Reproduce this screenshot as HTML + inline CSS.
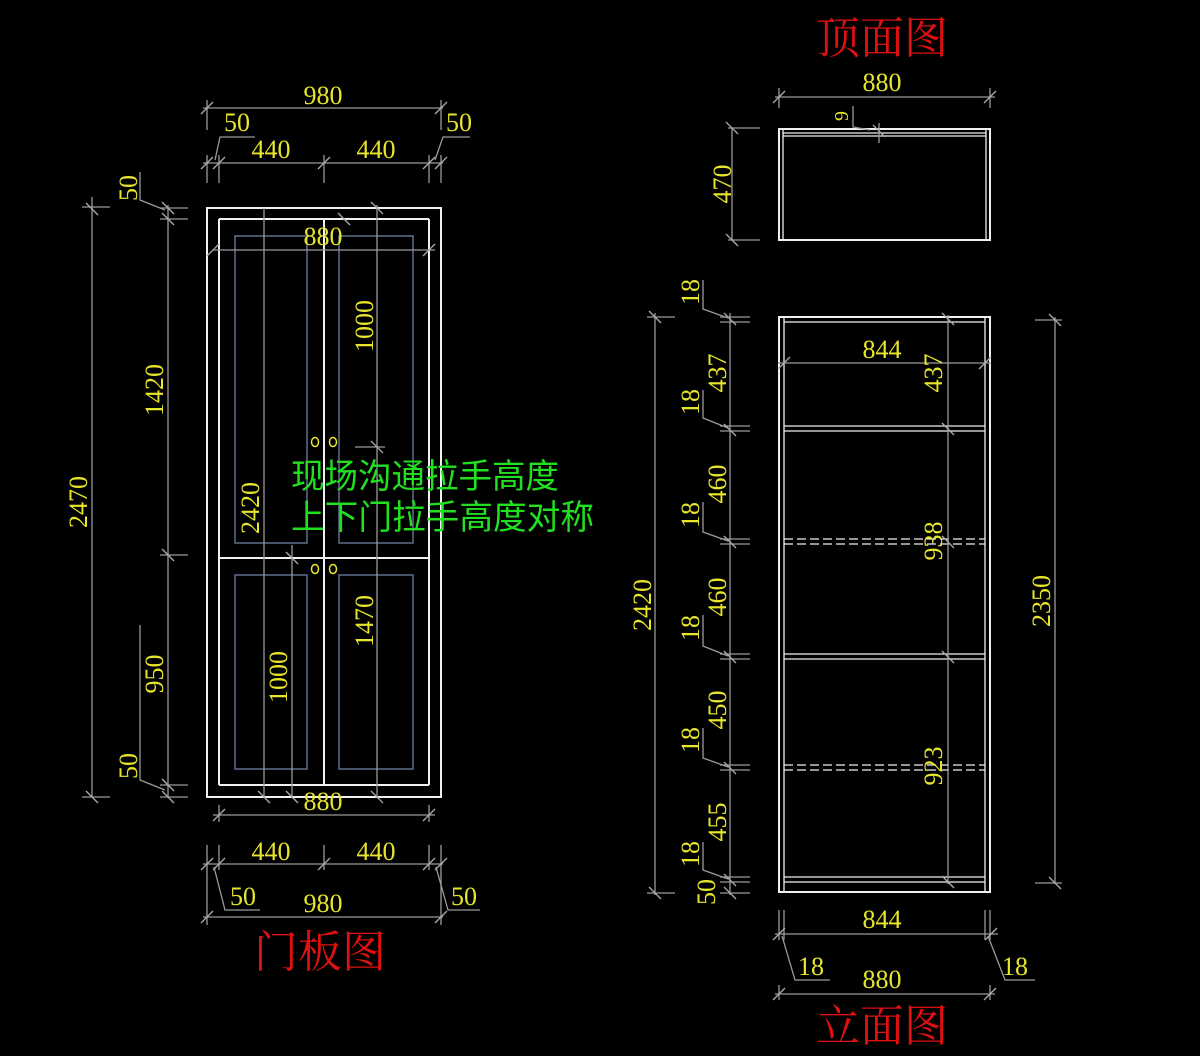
<!DOCTYPE html>
<html><head><meta charset="utf-8"><style>
html,body{margin:0;padding:0;background:#000;}
svg{display:block}
.w{stroke:#f0f0f0;stroke-width:2;fill:none}
.b{stroke:#5d6f8c;stroke-width:1.5;fill:none}
.d{stroke:#9a9a9a;stroke-width:1.3;fill:none}
.t{fill:#e8e62a;font-family:"Liberation Serif",serif;font-size:26px}
.r{fill:#e01010;font-family:"Liberation Sans","Noto Serif CJK SC",serif;font-size:44px}
.g{fill:#20e020;font-family:"Liberation Sans","Noto Sans CJK SC",sans-serif;font-size:34px}
</style></head><body>
<svg width="1200" height="1056" viewBox="0 0 1200 1056" xmlns="http://www.w3.org/2000/svg">
<rect width="1200" height="1056" fill="#000"/>
<!-- DOOR VIEW -->
<rect class="w" x="207" y="208" width="234" height="589"/>
<line class="w" x1="219" y1="219" x2="429" y2="219"/>
<line class="w" x1="219" y1="785" x2="429" y2="785"/>
<line class="w" x1="219" y1="219" x2="219" y2="785"/>
<line class="w" x1="429" y1="219" x2="429" y2="785"/>
<line class="w" x1="324" y1="219" x2="324" y2="785"/>
<line class="w" x1="219" y1="558" x2="429" y2="558"/>
<rect class="b" x="235" y="236" width="72" height="307"/>
<rect class="b" x="339" y="236" width="74" height="307"/>
<rect class="b" x="235" y="575" width="72" height="194"/>
<rect class="b" x="339" y="575" width="74" height="194"/>
<g stroke="#e8e62a" stroke-width="1.5" fill="none">
<ellipse cx="315" cy="442" rx="3.5" ry="4.5"/><ellipse cx="333" cy="442" rx="3.5" ry="4.5"/>
<ellipse cx="315" cy="569" rx="3.5" ry="4.5"/><ellipse cx="333" cy="569" rx="3.5" ry="4.5"/>
</g>
<g class="d">
<line x1="203" y1="108" x2="443" y2="108"/>
<line x1="207" y1="100" x2="207" y2="130"/><line x1="441" y1="100" x2="441" y2="130"/>
<line x1="203" y1="163" x2="443" y2="163"/>
<line x1="207" y1="155" x2="207" y2="183"/><line x1="219" y1="155" x2="219" y2="183"/>
<line x1="324" y1="155" x2="324" y2="183"/><line x1="429" y1="155" x2="429" y2="183"/><line x1="441" y1="155" x2="441" y2="183"/>
<polyline points="215,160 220,137 255,137"/><polyline points="435,160 443,137 470,137"/>
<line x1="213" y1="250" x2="435" y2="250"/>
<line x1="264" y1="208" x2="264" y2="797"/>
<line x1="292" y1="545" x2="292" y2="797"/>
<line x1="377" y1="205" x2="377" y2="797"/>
<line x1="355" y1="447" x2="385" y2="447"/>
<line x1="92" y1="197" x2="92" y2="797"/>
<line x1="82" y1="207" x2="110" y2="207"/><line x1="82" y1="797" x2="110" y2="797"/>
<line x1="168" y1="205" x2="168" y2="797"/>
<line x1="160" y1="208" x2="188" y2="208"/><line x1="160" y1="219" x2="188" y2="219"/>
<line x1="160" y1="555" x2="188" y2="555"/>
<line x1="160" y1="785" x2="188" y2="785"/><line x1="160" y1="797" x2="188" y2="797"/>
<polyline points="140,172 140,200 165,210"/><polyline points="140,625 140,780 165,790"/>
<line x1="213" y1="815" x2="435" y2="815"/>
<line x1="219" y1="805" x2="219" y2="822"/><line x1="429" y1="805" x2="429" y2="822"/>
<line x1="203" y1="864" x2="443" y2="864"/>
<line x1="207" y1="845" x2="207" y2="925"/><line x1="219" y1="845" x2="219" y2="870"/>
<line x1="324" y1="845" x2="324" y2="870"/><line x1="429" y1="845" x2="429" y2="870"/><line x1="441" y1="845" x2="441" y2="925"/>
<line x1="203" y1="917" x2="443" y2="917"/>
<polyline points="214,867 225,910 260,910"/><polyline points="436,867 448,910 480,910"/>
</g>
<g stroke="#aaa" stroke-width="1.3">
<line x1="201" y1="114" x2="213" y2="102"/><line x1="435" y1="114" x2="447" y2="102"/>
<line x1="201" y1="169" x2="213" y2="157"/><line x1="213" y1="169" x2="225" y2="157"/><line x1="318" y1="169" x2="330" y2="157"/><line x1="423" y1="169" x2="435" y2="157"/><line x1="435" y1="169" x2="447" y2="157"/>
<line x1="207" y1="256" x2="219" y2="244"/><line x1="423" y1="256" x2="435" y2="244"/>
<line x1="86" y1="203" x2="98" y2="215"/><line x1="86" y1="791" x2="98" y2="803"/>
<line x1="162" y1="202" x2="174" y2="214"/><line x1="162" y1="213" x2="174" y2="225"/><line x1="162" y1="549" x2="174" y2="561"/><line x1="162" y1="779" x2="174" y2="791"/><line x1="162" y1="791" x2="174" y2="803"/>
<line x1="213" y1="821" x2="225" y2="809"/><line x1="423" y1="821" x2="435" y2="809"/>
<line x1="201" y1="870" x2="213" y2="858"/><line x1="213" y1="870" x2="225" y2="858"/><line x1="318" y1="870" x2="330" y2="858"/><line x1="423" y1="870" x2="435" y2="858"/><line x1="435" y1="870" x2="447" y2="858"/>
<line x1="201" y1="923" x2="213" y2="911"/><line x1="435" y1="923" x2="447" y2="911"/>
<line x1="258" y1="791" x2="270" y2="803"/><line x1="286" y1="791" x2="298" y2="803"/><line x1="371" y1="791" x2="383" y2="803"/>
<line x1="286" y1="552" x2="298" y2="564"/><line x1="371" y1="441" x2="383" y2="453"/><line x1="371" y1="202" x2="383" y2="214"/><line x1="338" y1="213" x2="350" y2="225"/>
</g>
<text class="t" x="323" y="104" text-anchor="middle">980</text>
<text class="t" x="237" y="131" text-anchor="middle">50</text>
<text class="t" x="459" y="131" text-anchor="middle">50</text>
<text class="t" x="271" y="158" text-anchor="middle">440</text>
<text class="t" x="376" y="158" text-anchor="middle">440</text>
<text class="t" x="323" y="245" text-anchor="middle">880</text>
<text class="t" x="323" y="810" text-anchor="middle">880</text>
<text class="t" x="271" y="860" text-anchor="middle">440</text>
<text class="t" x="376" y="860" text-anchor="middle">440</text>
<text class="t" x="243" y="905" text-anchor="middle">50</text>
<text class="t" x="464" y="905" text-anchor="middle">50</text>
<text class="t" x="323" y="912" text-anchor="middle">980</text>
<text class="t" transform="translate(87,502) rotate(-90)" text-anchor="middle">2470</text>
<text class="t" transform="translate(163,390) rotate(-90)" text-anchor="middle">1420</text>
<text class="t" transform="translate(163,674) rotate(-90)" text-anchor="middle">950</text>
<text class="t" transform="translate(137,188) rotate(-90)" text-anchor="middle">50</text>
<text class="t" transform="translate(137,766) rotate(-90)" text-anchor="middle">50</text>
<text class="t" transform="translate(259,508) rotate(-90)" text-anchor="middle">2420</text>
<text class="t" transform="translate(287,677) rotate(-90)" text-anchor="middle">1000</text>
<text class="t" transform="translate(373,326) rotate(-90)" text-anchor="middle">1000</text>
<text class="t" transform="translate(373,621) rotate(-90)" text-anchor="middle">1470</text>
<text class="g" x="291" y="488" textLength="268" lengthAdjust="spacingAndGlyphs">现场沟通拉手高度</text>
<text class="g" x="291" y="529" textLength="303" lengthAdjust="spacingAndGlyphs">上下门拉手高度对称</text>
<text class="r" x="320" y="967" text-anchor="middle">门板图</text>
<!-- TOP VIEW -->
<text class="r" x="882" y="53" text-anchor="middle">顶面图</text>
<rect class="w" x="779" y="129" width="211" height="111"/>
<g stroke="#f0f0f0" stroke-width="1.3">
<line x1="783" y1="129" x2="783" y2="240"/><line x1="986" y1="129" x2="986" y2="240"/>
<line x1="783" y1="133" x2="986" y2="133"/><line x1="783" y1="136" x2="986" y2="136"/>
</g>
<g class="d">
<line x1="775" y1="97" x2="995" y2="97"/>
<line x1="779" y1="88" x2="779" y2="108"/><line x1="990" y1="88" x2="990" y2="108"/>
<line x1="732" y1="128" x2="732" y2="240"/>
<line x1="728" y1="128" x2="760" y2="128"/><line x1="728" y1="240" x2="760" y2="240"/>
<polyline points="853,106 853,127 870,130"/><line x1="879" y1="123" x2="879" y2="143"/>
</g>
<g stroke="#aaa" stroke-width="1.3">
<line x1="773" y1="103" x2="785" y2="91"/><line x1="984" y1="103" x2="996" y2="91"/>
<line x1="726" y1="122" x2="738" y2="134"/><line x1="726" y1="234" x2="738" y2="246"/>
<line x1="873" y1="125" x2="885" y2="137"/>
</g>
<text class="t" x="882" y="91" text-anchor="middle">880</text>
<text class="t" transform="translate(731,184) rotate(-90)" text-anchor="middle">470</text>
<text class="t" transform="translate(848,116) rotate(-90)" text-anchor="middle" style="font-size:20px">9</text>
<!-- ELEVATION -->
<rect class="w" x="779" y="317" width="211" height="575"/>
<g stroke="#f0f0f0" stroke-width="1.3" fill="none">
<line x1="784" y1="317" x2="784" y2="892"/><line x1="985" y1="317" x2="985" y2="892"/>
<line x1="784" y1="322" x2="985" y2="322"/>
<line x1="784" y1="426" x2="985" y2="426"/><line x1="784" y1="431" x2="985" y2="431"/>
<line x1="784" y1="654" x2="985" y2="654"/><line x1="784" y1="659" x2="985" y2="659"/>
<line x1="784" y1="877" x2="985" y2="877"/><line x1="784" y1="882" x2="985" y2="882"/>
<g stroke-dasharray="9,4">
<line x1="784" y1="539" x2="985" y2="539"/><line x1="784" y1="544" x2="985" y2="544"/>
<line x1="784" y1="765" x2="985" y2="765"/><line x1="784" y1="770" x2="985" y2="770"/>
</g>
</g>
<g class="d">
<line x1="655" y1="313" x2="655" y2="895"/>
<line x1="647" y1="317" x2="675" y2="317"/><line x1="647" y1="893" x2="675" y2="893"/>
<line x1="730" y1="313" x2="730" y2="895"/>
<line x1="720" y1="317" x2="750" y2="317"/><line x1="720" y1="322" x2="750" y2="322"/>
<line x1="720" y1="426" x2="750" y2="426"/><line x1="720" y1="431" x2="750" y2="431"/>
<line x1="720" y1="539" x2="750" y2="539"/><line x1="720" y1="544" x2="750" y2="544"/>
<line x1="720" y1="654" x2="750" y2="654"/><line x1="720" y1="659" x2="750" y2="659"/>
<line x1="720" y1="765" x2="750" y2="765"/><line x1="720" y1="770" x2="750" y2="770"/>
<line x1="720" y1="877" x2="750" y2="877"/><line x1="720" y1="882" x2="750" y2="882"/><line x1="720" y1="893" x2="750" y2="893"/>
<polyline points="703,280 703,309 728,318"/>
<polyline points="703,390 703,418 728,428"/>
<polyline points="703,502 703,532 728,541"/>
<polyline points="703,615 703,646 728,656"/>
<polyline points="703,728 703,758 728,767"/>
<polyline points="703,842 703,870 728,879"/>
<line x1="948" y1="315" x2="948" y2="884"/>
<line x1="1055" y1="317" x2="1055" y2="884"/>
<line x1="1035" y1="320" x2="1062" y2="320"/><line x1="1035" y1="883" x2="1062" y2="883"/>
<line x1="778" y1="363" x2="991" y2="363"/>
<line x1="779" y1="910" x2="779" y2="940"/><line x1="784" y1="910" x2="784" y2="940"/>
<line x1="985" y1="910" x2="985" y2="940"/><line x1="990" y1="910" x2="990" y2="940"/>
<line x1="775" y1="934" x2="998" y2="934"/>
<line x1="775" y1="994" x2="995" y2="994"/>
<line x1="779" y1="985" x2="779" y2="1000"/><line x1="990" y1="985" x2="990" y2="1000"/>
<polyline points="782,936 795,980 830,980"/><polyline points="988,936 1005,980 1035,980"/>
</g>
<g stroke="#aaa" stroke-width="1.3">
<line x1="649" y1="311" x2="661" y2="323"/><line x1="649" y1="887" x2="661" y2="899"/>
<line x1="724" y1="313" x2="736" y2="325"/><line x1="724" y1="424" x2="736" y2="436"/><line x1="724" y1="536" x2="736" y2="548"/>
<line x1="724" y1="651" x2="736" y2="663"/><line x1="724" y1="762" x2="736" y2="774"/><line x1="724" y1="874" x2="736" y2="886"/><line x1="724" y1="887" x2="736" y2="899"/>
<line x1="942" y1="313" x2="954" y2="325"/><line x1="942" y1="423" x2="954" y2="435"/><line x1="942" y1="536" x2="954" y2="548"/>
<line x1="942" y1="651" x2="954" y2="663"/><line x1="942" y1="876" x2="954" y2="888"/>
<line x1="1049" y1="314" x2="1061" y2="326"/><line x1="1049" y1="877" x2="1061" y2="889"/>
<line x1="778" y1="369" x2="790" y2="357"/><line x1="979" y1="369" x2="991" y2="357"/>
<line x1="773" y1="940" x2="785" y2="928"/><line x1="985" y1="940" x2="997" y2="928"/>
<line x1="773" y1="1000" x2="785" y2="988"/><line x1="984" y1="1000" x2="996" y2="988"/>
</g>
<text class="t" x="882" y="358" text-anchor="middle">844</text>
<text class="t" x="882" y="928" text-anchor="middle">844</text>
<text class="t" x="882" y="988" text-anchor="middle">880</text>
<text class="t" x="811" y="975" text-anchor="middle">18</text>
<text class="t" x="1015" y="975" text-anchor="middle">18</text>
<text class="t" transform="translate(651,605) rotate(-90)" text-anchor="middle">2420</text>
<text class="t" transform="translate(1050,601) rotate(-90)" text-anchor="middle">2350</text>
<text class="t" transform="translate(942,373) rotate(-90)" text-anchor="middle">437</text>
<text class="t" transform="translate(942,541) rotate(-90)" text-anchor="middle">938</text>
<text class="t" transform="translate(942,766) rotate(-90)" text-anchor="middle">923</text>
<text class="t" transform="translate(726,373) rotate(-90)" text-anchor="middle">437</text>
<text class="t" transform="translate(726,484) rotate(-90)" text-anchor="middle">460</text>
<text class="t" transform="translate(726,597) rotate(-90)" text-anchor="middle">460</text>
<text class="t" transform="translate(726,710) rotate(-90)" text-anchor="middle">450</text>
<text class="t" transform="translate(726,822) rotate(-90)" text-anchor="middle">455</text>
<text class="t" transform="translate(699,292) rotate(-90)" text-anchor="middle">18</text>
<text class="t" transform="translate(699,402) rotate(-90)" text-anchor="middle">18</text>
<text class="t" transform="translate(699,515) rotate(-90)" text-anchor="middle">18</text>
<text class="t" transform="translate(699,628) rotate(-90)" text-anchor="middle">18</text>
<text class="t" transform="translate(699,740) rotate(-90)" text-anchor="middle">18</text>
<text class="t" transform="translate(699,854) rotate(-90)" text-anchor="middle">18</text>
<text class="t" transform="translate(715,892) rotate(-90)" text-anchor="middle">50</text>
<text class="r" x="882" y="1041" text-anchor="middle">立面图</text>
</svg>
</body></html>
